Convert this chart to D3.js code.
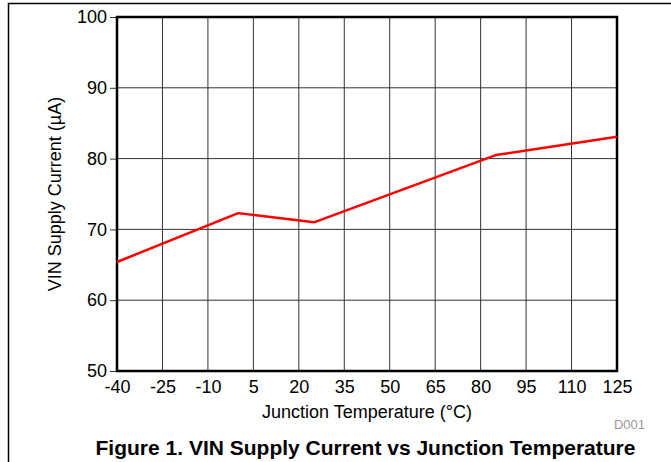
<!DOCTYPE html>
<html><head><meta charset="utf-8">
<script src="https://cdn.jsdelivr.net/npm/d3@7"></script>
<style>body{margin:0;background:#fff}svg{display:block;font-family:Arial,"Liberation Sans",sans-serif}</style>
</head><body><svg id="c" width="671" height="462"></svg>
<script>
const temps = [-40, 0, 25, 85, 125];
const current = [65.4, 72.3, 71.0, 80.5, 83.1];
const xTicks = [-40, -25, -10, 5, 20, 35, 50, 65, 80, 95, 110, 125];
const yTicks = [50, 60, 70, 80, 90, 100];

const svg = d3.select("#c");
const L = 117, R = 617, T = 17, B = 371;
const FF = "Arial, 'Liberation Sans', sans-serif";
const x = d3.scaleLinear().domain([-40, 125]).range([L, R]);
const y = d3.scaleLinear().domain([50, 100]).range([B, T]);

// outer border
svg.append("path").attr("d", "M8.5,462 V3.5 H671").attr("fill", "none").attr("stroke", "#000").attr("stroke-width", 1.5);

// grid
svg.append("g").selectAll("line").data(xTicks.slice(1, -1)).join("line")
  .attr("x1", d => x(d)).attr("x2", d => x(d)).attr("y1", T).attr("y2", B)
  .attr("stroke", "#333").attr("stroke-width", 1);
svg.append("g").selectAll("line").data(yTicks.slice(1, -1)).join("line")
  .attr("x1", L).attr("x2", R).attr("y1", d => y(d)).attr("y2", d => y(d))
  .attr("stroke", "#333").attr("stroke-width", 1);

// y axis ticks and labels
const ya = svg.append("g").attr("transform", `translate(${L},0)`)
  .call(d3.axisLeft(y).tickValues(yTicks).tickSize(7).tickPadding(3).tickFormat(d => String(d)));
ya.select(".domain").remove();
ya.selectAll("line").attr("stroke", "#333");
ya.selectAll("text").attr("font-size", 18).attr("fill", "#000").attr("font-family", FF);

// x axis labels
const xa = svg.append("g").attr("transform", `translate(0,${B})`)
  .call(d3.axisBottom(x).tickValues(xTicks).tickSize(0).tickPadding(9).tickFormat(d => String(d)));
xa.select(".domain").remove();
xa.selectAll("text").attr("font-size", 18).attr("fill", "#000").attr("font-family", FF);

// frame
svg.append("rect").attr("x", L).attr("y", T).attr("width", R - L).attr("height", B - T)
  .attr("fill", "none").attr("stroke", "#000").attr("stroke-width", 2.5);

// line
const line = d3.line().x((d, i) => x(temps[i])).y(d => y(d));
svg.append("path").datum(current).attr("d", line).attr("fill", "none")
  .attr("stroke", "#ff0000").attr("stroke-width", 2.5).attr("stroke-linejoin", "round");

// labels
svg.append("text").attr("x", (L + R) / 2).attr("y", 418).attr("text-anchor", "middle")
  .attr("font-size", 18).text("Junction Temperature (°C)");
svg.append("text").attr("transform", `translate(61,${(T + B) / 2}) rotate(-90)`).attr("text-anchor", "middle")
  .attr("font-size", 18).text("VIN Supply Current (µA)");
svg.append("text").attr("x", 645).attr("y", 429).attr("text-anchor", "end")
  .attr("font-size", 13).attr("fill", "#999").text("D001");
svg.append("text").attr("x", 365.5).attr("y", 455).attr("text-anchor", "middle")
  .attr("font-size", 21).attr("font-weight", "bold").text("Figure 1. VIN Supply Current vs Junction Temperature");
</script></body></html>
